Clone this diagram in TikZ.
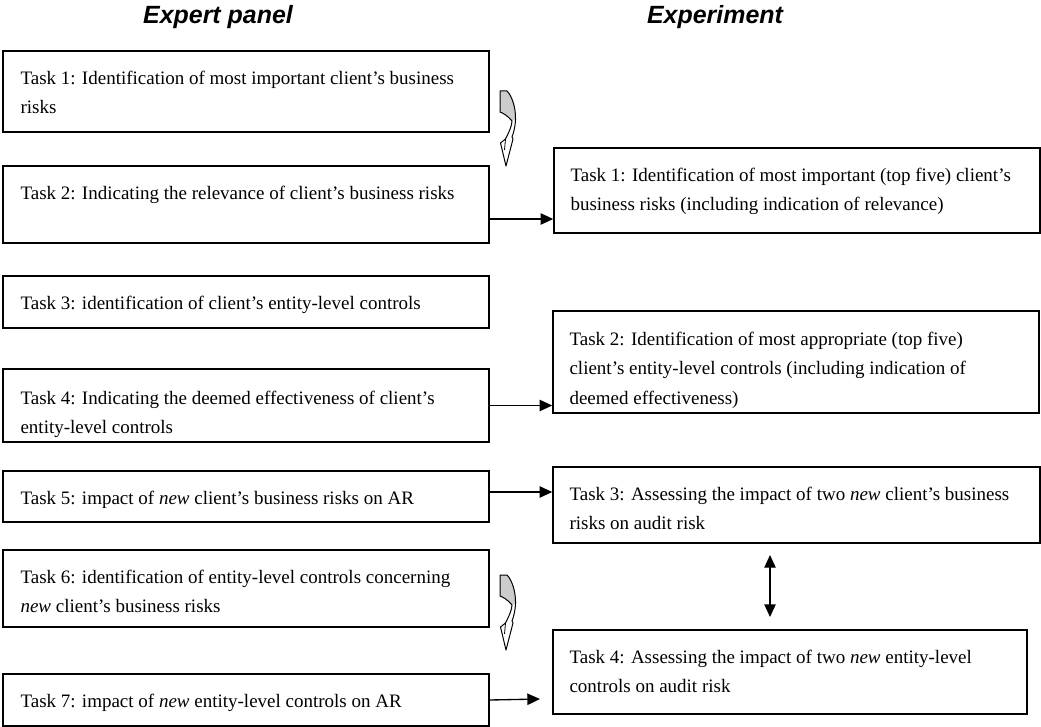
\documentclass[tikz,border=0pt]{standalone}
\usepackage{fontspec}
\setmainfont{Liberation Serif}
\newfontfamily\titlefont{Liberation Sans}
\usetikzlibrary{arrows.meta,fit,calc}

\newcommand{\bodysize}{\fontsize{14.25pt}{22.1pt}\selectfont}
\newcommand{\lines}[1]{\begin{tabular}[t]{@{}l@{}}#1\end{tabular}}

\begin{document}
\begin{tikzpicture}[x=0.75pt,y=-0.75pt,
  box/.style={draw=black, line width=1.1pt, inner sep=0pt},
  txt/.style={anchor=base west, inner sep=0pt, font=\bodysize},
  ttl/.style={anchor=base, inner sep=0pt, font=\titlefont\bfseries\itshape\fontsize{18.7pt}{22pt}\selectfont},
  tip/.tip={Triangle[length=9.5pt,width=8.5pt]},
  link/.style={line width=1pt, -tip},
  both/.style={line width=1pt, tip-tip},
  twist/.pic={
    % twisted curved arrow: grey back face at the top, white band and slender hollow head below
    \def\outline{(0,1) -- (7,1) .. controls (12,6) and (16,18) .. (15.5,30)
      .. controls (15,38) and (13.5,43) .. (12,47) -- (13,49) -- (6,76) -- (0.5,53) -- (5.5,49)
      .. controls (8.5,43) and (12,36) .. (12,31) .. controls (8,26) and (3,23) .. (0,22) -- cycle}
    \fill[white] \outline;
    \begin{scope}
      \clip \outline;
      \fill[gray!40] (-1,-1) -- (17,-1) -- (17,29) -- (12,31) .. controls (8,26) and (3,23) .. (0,22) -- (-1,22) -- cycle;
    \end{scope}
    \draw[line width=0.75pt, line join=round] \outline;
    \draw[line width=0.6pt] (5.5,49) -- (4.5,60);
  },
]
\fill[white] (0,0) rectangle (1041,727);
\useasboundingbox (0,0) rectangle (1041,727);

% column headings
\node[ttl] (hexp) at (218,23.5) {Expert panel};
\node[ttl] (hexm) at (715,23.5) {Experiment};

% expert panel tasks
\node[box, fit={(3,51) (489,132)}]  (t1) {};
\node[box, fit={(3,166) (489,243)}] (t2) {};
\node[box, fit={(3,276) (489,328)}] (t3) {};
\node[box, fit={(3,369) (489,442)}] (t4) {};
\node[box, fit={(3,471) (489,522)}] (t5) {};
\node[box, fit={(3,550) (489,627)}] (t6) {};
\node[box, fit={(3,674) (489,726)}] (t7) {};

\node[txt] (t1x) at ($(t1.north west)+(18,34)$) {\lines{Task 1: Identification of most important client’s business\\risks}};
\node[txt] (t2x) at ($(t2.north west)+(18,34)$) {\lines{Task 2: Indicating the relevance of client’s business risks}};
\node[txt] (t3x) at ($(t3.north west)+(18,34)$) {\lines{Task 3: identification of client’s entity-level controls}};
\node[txt] (t4x) at ($(t4.north west)+(18,36)$) {\lines{Task 4: Indicating the deemed effectiveness of client’s\\entity-level controls}};
\node[txt] (t5x) at ($(t5.north west)+(18,34)$) {\lines{Task 5: impact of \textit{new} client’s business risks on AR}};
\node[txt] (t6x) at ($(t6.north west)+(18,34)$) {\lines{Task 6: identification of entity-level controls concerning\\\textit{new} client’s business risks}};
\node[txt] (t7x) at ($(t7.north west)+(18,34)$) {\lines{Task 7: impact of \textit{new} entity-level controls on AR}};

% experiment tasks
\node[box, fit={(554,148) (1040,233)}] (e1) {};
\node[box, fit={(553,311) (1039,413)}] (e2) {};
\node[box, fit={(553,467) (1040,543)}] (e3) {};
\node[box, fit={(553,630) (1027,714)}] (e4) {};

\node[txt] (e1x) at ($(e1.north west)+(17,34)$) {\lines{Task 1: Identification of most important (top five) client’s\\business risks (including indication of relevance)}};
\node[txt] (e2x) at ($(e2.north west)+(17,35)$) {\lines{Task 2: Identification of most appropriate (top five)\\client’s entity-level controls (including indication of\\deemed effectiveness)}};
\node[txt] (e3x) at ($(e3.north west)+(17,34)$) {\lines{Task 3: Assessing the impact of two \textit{new} client’s business\\risks on audit risk}};
\node[txt] (e4x) at ($(e4.north west)+(17,34)$) {\lines{Task 4: Assessing the impact of two \textit{new} entity-level\\controls on audit risk}};

% connectors
\coordinate (y12) at (0,219);
\coordinate (y35) at (0,492);
\coordinate (t7end) at (540,699);
\coordinate (d3) at (770,555);
\coordinate (d4) at (770,617);

\draw[link] (t2.east |- y12) -- (e1.west |- y12);
\draw[link] (t4.east) -- (e2.west |- t4.east);
\draw[link] (t5.east |- y35) -- (e3.west |- y35);
\draw[link] (t7.east) -- (t7end);
\draw[both] (d3) -- (d4);

% curved arrows between consecutive panel tasks
\pic (c12) at (500,90) {twist};
\pic (c67) at (500,574) {twist};
\end{tikzpicture}
\end{document}
